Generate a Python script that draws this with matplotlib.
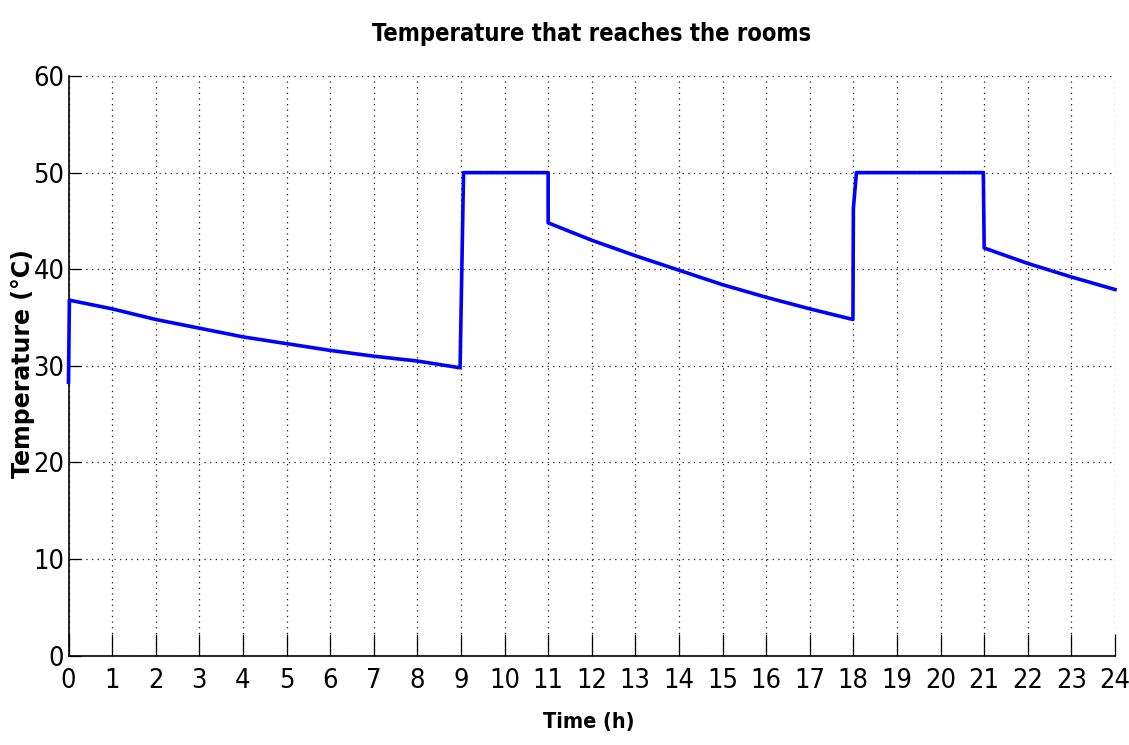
import matplotlib
matplotlib.use("Agg")
import matplotlib.pyplot as plt
from matplotlib import font_manager

# ---- data ----
time_h = [0, 0.02, 1, 2, 3, 4, 5, 6, 7, 8, 8.98, 9.06, 11.0, 11.0,
          12, 13, 14, 15, 16, 17, 17.99, 18.0, 18.07, 20.98, 21.0, 22, 23, 24]
temp_c = [28.3, 36.8, 35.9, 34.8, 33.9, 33.0, 32.3, 31.6, 31.0, 30.5, 29.8, 50, 50, 44.8,
          43.0, 41.4, 39.9, 38.4, 37.1, 35.9, 34.8, 46.3, 50, 50, 42.2, 40.6, 39.2, 37.9]
x_ticks = list(range(0, 25))
y_ticks = [0, 10, 20, 30, 40, 50, 60]

title_text = "Temperature that reaches the rooms"
xlabel_text = "Time (h)"
ylabel_text = "Temperature (°C)"

# ---- fonts ----
names = {f.name for f in font_manager.fontManager.ttflist}
if "Liberation Sans Narrow" in names:
    narrow = dict(family="Liberation Sans Narrow")
else:
    narrow = dict(family="DejaVu Sans", stretch="condensed")

W, H, DPI = 1129, 745, 100
fig = plt.figure(figsize=(W / DPI, H / DPI), dpi=DPI)
left_px, right_px, top_px, bottom_px = 68.5, 1115, 76, 655.7
ax = fig.add_axes([left_px / W, 1 - bottom_px / H,
                   (right_px - left_px) / W, (bottom_px - top_px) / H])

ax.plot(time_h, temp_c, color=(0, 0, 1), linewidth=2.6, clip_on=False, zorder=3)

ax.set_xlim(0, 24)
ax.set_ylim(0, 60)
ax.set_xticks(x_ticks)
ax.set_yticks(y_ticks)
ax.grid(True, color="0.1", linestyle=(0, (1, 3.5)), linewidth=0.9)

for s in ("top", "right"):
    ax.spines[s].set_visible(False)
for s in ("left", "bottom"):
    ax.spines[s].set_linewidth(1.2)
    ax.spines[s].set_color("black")

ax.tick_params(axis="x", direction="in", length=16, width=0.9, pad=9)
ax.tick_params(axis="y", direction="in", length=8.6, width=0.9, pad=3)
for lab in ax.get_xticklabels() + ax.get_yticklabels():
    lab.set_fontsize(19.5)
    lab.set(**narrow)

ax.set_title(title_text, fontsize=17, fontweight="bold", pad=25, **narrow)
ax.set_xlabel(xlabel_text, fontsize=15.5, fontweight="bold", va="center", **narrow)
ax.xaxis.set_label_coords((589 - left_px) / (right_px - left_px), -(722 - bottom_px) / (bottom_px - top_px))
ax.set_ylabel(ylabel_text, fontsize=17, fontweight="bold", family="DejaVu Sans", va="center")
ax.yaxis.set_label_coords(-(left_px - 23) / (right_px - left_px), (bottom_px - 364) / (bottom_px - top_px))

fig.savefig("out.png", dpi=DPI)
